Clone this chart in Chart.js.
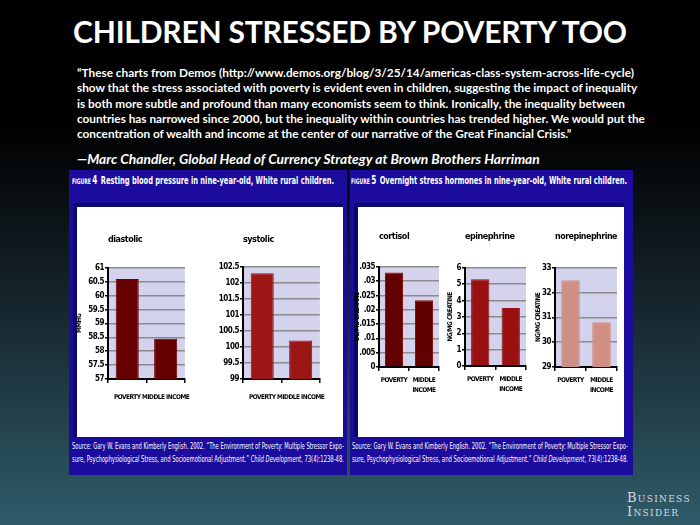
<!DOCTYPE html>
<html>
<head>
<meta charset="utf-8">
<title>Children stressed by poverty too</title>
<script src="https://cdn.jsdelivr.net/npm/chart.js@4.4.1/dist/chart.umd.min.js"></script>
<style>
  html, body { margin: 0; padding: 0; }
  body {
    width: 700px; height: 525px; overflow: hidden; position: relative;
    background: linear-gradient(to bottom, #000 0%, #000 24%, #142229 55%, #2f5b69 100%);
    font-family: Lato, "Open Sans", sans-serif;
  }
  .abs { position: absolute; }
  #slideTitle {
    left: 0; top: 13px; width: 700px; text-align: center; color: #fff;
    font: bold 30px Lato, sans-serif; letter-spacing: -0.2px;
  }
  #quote {
    left: 77px; top: 65px; color: #fff; font: bold 11.8px Lato, sans-serif;
    line-height: 15.3px; white-space: nowrap;
  }
  #attrib {
    left: 77px; top: 150px; color: #fff; font: italic bold 13.8px Lato, sans-serif;
    white-space: nowrap;
  }
  .panel { background: #1b0c9d; }
  .inner { background: #fff; box-sizing: border-box; border-top: 4px solid #0b0870; border-left: 4px solid #0b0870; }
  .head, .src { color: #fff; white-space: nowrap; transform-origin: 0 0; font-family: "DejaVu Sans Condensed", sans-serif; }
  .head { font-size: 11px; font-weight: bold; }
  .head .fig { font-size: 7.5px; }
  .head .num { font-size: 12px; margin: 0 5px 0 2px; }
  .src { font-size: 8.5px; line-height: 13px; }
  #brand {
    left: 627px; top: 491px; color: #d4dcdf; font: 13px "DejaVu Serif", "Liberation Serif", serif;
    font-variant: small-caps; letter-spacing: 1.3px; line-height: 14px;
  }
  canvas { position: absolute; }
</style>
</head>
<body>
<div id="slideTitle" class="abs">CHILDREN STRESSED BY POVERTY TOO</div>
<div id="quote" class="abs">“These charts from Demos (http://www.demos.org/blog/3/25/14/americas-class-system-across-life-cycle)<br>show that the stress associated with poverty is evident even in children, suggesting the impact of inequality<br>is both more subtle and profound than many economists seem to think. Ironically, the inequality between<br>countries has narrowed since 2000, but the inequality within countries has trended higher. We would put the<br>concentration of wealth and income at the center of our narrative of the Great Financial Crisis.”</div>
<div id="attrib" class="abs">—Marc Chandler, Global Head of Currency Strategy at Brown Brothers Harriman</div>

<div class="abs panel" style="left:69px; top:170px; width:278px; height:305px;"></div>
<div class="abs inner" style="left:73px; top:203px; width:270px; height:234px;"></div>
<div class="abs head" data-w="262" style="left:72px; top:173px;"><span class="fig">FIGURE</span><span class="num">4</span>Resting blood pressure in nine-year-old, White rural children.</div>
<div class="abs src" data-w="272" style="left:72px; top:440px;">Source: Gary W. Evans and Kimberly English. 2002. “The Environment of Poverty: Multiple Stressor Expo-</div>
<div class="abs src" data-w="272" style="left:72px; top:453px;">sure, Psychophysiological Stress, and Socioemotional Adjustment.” <i>Child Development</i>, 73(4):1238-48.</div>

<div class="abs panel" style="left:350px; top:170px; width:283px; height:305px;"></div>
<div class="abs inner" style="left:354px; top:203px; width:270px; height:234px;"></div>
<div class="abs head" data-w="276" style="left:351px; top:173px;"><span class="fig">FIGURE</span><span class="num">5</span>Overnight stress hormones in nine-year-old, White rural children.</div>
<div class="abs src" data-w="276" style="left:352px; top:440px;">Source: Gary W. Evans and Kimberly English. 2002. “The Environment of Poverty: Multiple Stressor Expo-</div>
<div class="abs src" data-w="276" style="left:352px; top:453px;">sure, Psychophysiological Stress, and Socioemotional Adjustment.” <i>Child Development</i>, 73(4):1238-48.</div>

<div id="brand" class="abs">Business<br>Insider</div>

<canvas id="diastolicChart" width="130" height="175" style="left:74px; top:230px;"></canvas>
<canvas id="systolicChart" width="129" height="175" style="left:210px; top:230px;"></canvas>
<canvas id="cortisolChart" width="91" height="174" style="left:352px; top:227px;"></canvas>
<canvas id="epinephrineChart" width="85" height="174" style="left:445px; top:227px;"></canvas>
<canvas id="norepinephrineChart" width="88" height="174" style="left:533px; top:227px;"></canvas>

<script>
/* ========================================
   Data
   ======================================== */

const pressureCategories = ['POVERTY', 'MIDDLE INCOME'];
const hormoneCategories = ['POVERTY', ['MIDDLE', 'INCOME']];

const diastolicValues = [60.6, 58.45];
const systolicValues = [102.3, 100.2];
const cortisolValues = [0.033, 0.0233];
const epinephrineValues = [5.3, 3.55];
const norepinephrineValues = [32.5, 30.8];

const diastolicTicks = [57, 57.5, 58, 58.5, 59, 59.5, 60, 60.5, 61];
const systolicTicks = [99, 99.5, 100, 100.5, 101, 101.5, 102, 102.5];
const cortisolTicks = [0, 0.005, 0.01, 0.015, 0.02, 0.025, 0.03, 0.035];
const epinephrineTicks = [0, 1, 2, 3, 4, 5, 6];
const norepinephrineTicks = [29, 30, 31, 32, 33];

const NARROW = '"DejaVu Sans Condensed", sans-serif';

/* ========================================
   Squeeze condensed caption lines to width
   ======================================== */

document.querySelectorAll('[data-w]').forEach(function (el) {
    const target = parseFloat(el.dataset.w);
    const w = el.getBoundingClientRect().width;
    if (w > 0) el.style.transform = 'scaleX(' + (target / w) + ')';
});

/* ========================================
   Chart helpers
   ======================================== */

// lavender plot area behind the grid
const plotBackground = {
    id: 'plotBackground',
    beforeDraw(chart) {
        const { ctx, chartArea: a } = chart;
        ctx.save();
        ctx.fillStyle = '#d3d3ee';
        ctx.fillRect(a.left, a.top, a.width, a.height);
        ctx.restore();
    }
};

// tighter letters, the original uses a compressed face
const condensedText = {
    id: 'condensedText',
    beforeUpdate(chart) { chart.ctx.letterSpacing = '-0.5px'; },
    beforeDraw(chart) { chart.ctx.letterSpacing = '-0.5px'; }
};

function shortDecimal(v) {
    return v === 0 ? '0' : String(v).replace(/^0\./, '.');
}

function makeBarChart(id, o) {
    const canvas = document.getElementById(id);
    if (!canvas) return;

    new Chart(canvas.getContext('2d'), {
        type: 'bar',
        data: {
            labels: o.labels,
            datasets: [{
                data: o.values,
                backgroundColor: o.color,
                borderColor: o.border || o.color,
                borderWidth: 1,
                categoryPercentage: 1,
                barPercentage: 0.6
            }]
        },
        plugins: [condensedText, plotBackground],
        options: {
            responsive: false,
            animation: false,
            devicePixelRatio: 1,
            layout: { padding: { top: 4, right: 4, bottom: 0, left: 0 } },
            plugins: {
                legend: { display: false },
                tooltip: { enabled: false },
                title: {
                    display: true,
                    text: o.title,
                    align: 'start',
                    fullSize: false,
                    color: '#000',
                    font: { family: NARROW, size: 9, weight: 'bold', lineHeight: 1.2 },
                    padding: { top: 0, bottom: o.titleGap }
                }
            },
            scales: {
                x: {
                    offset: true,
                    grid: { display: true, offset: true, drawOnChartArea: false, drawTicks: true, tickLength: 4, color: '#000', lineWidth: 1.5 },
                    border: { display: true, color: '#000', width: 2 },
                    ticks: {
                        color: '#000', padding: o.labelPad, maxRotation: 0, autoSkip: false,
                        font: { family: NARROW, size: 6.5, weight: 'bold', lineHeight: 1.45 }
                    },
                    afterFit(scale) { scale.height = o.xHeight; }
                },
                y: {
                    min: o.ticks[0],
                    max: o.ticks[o.ticks.length - 1],
                    grid: { color: '#8c8c8c', lineWidth: 1.5, tickColor: '#000', tickLength: 3 },
                    border: { display: true, color: '#000', width: 2 },
                    ticks: {
                        color: '#000', padding: 1, autoSkip: false,
                        font: { family: NARROW, size: 8, weight: 'bold' },
                        callback: function (v) { return o.tickLabel ? o.tickLabel(v) : String(v); }
                    },
                    title: {
                        display: !!o.yTitle,
                        text: o.yTitle || '',
                        color: '#000',
                        padding: { top: 1, bottom: 0 },
                        font: { family: NARROW, size: 6.5, weight: 'bold' }
                    },
                    afterBuildTicks(scale) { scale.ticks = o.ticks.map(function (v) { return { value: v }; }); },
                    afterFit(scale) { scale.width = o.yWidth; }
                }
            }
        }
    });
}

/* ========================================
   Figure 4 - resting blood pressure
   ======================================== */

makeBarChart('diastolicChart', {
    labels: pressureCategories, values: diastolicValues, ticks: diastolicTicks,
    color: '#660000', title: 'diastolic', yTitle: 'MMHG',
    yWidth: 34, xHeight: 26, titleGap: 23, labelPad: 10
});

makeBarChart('systolicChart', {
    labels: pressureCategories, values: systolicValues, ticks: systolicTicks,
    color: '#9c1616', title: 'systolic',
    yWidth: 33, xHeight: 26, titleGap: 22, labelPad: 10
});

/* ========================================
   Figure 5 - overnight stress hormones
   ======================================== */

makeBarChart('cortisolChart', {
    labels: hormoneCategories, values: cortisolValues, ticks: cortisolTicks,
    color: '#620000', border: '#8a1010', title: 'cortisol', yTitle: 'UG/MG CREATINE',
    tickLabel: shortDecimal,
    yWidth: 27, xHeight: 34, titleGap: 25, labelPad: 5
});

makeBarChart('epinephrineChart', {
    labels: hormoneCategories, values: epinephrineValues, ticks: epinephrineTicks,
    color: '#9a0f0f', title: 'epinephrine', yTitle: 'NG/MG CREATINE',
    yWidth: 20, xHeight: 35, titleGap: 26, labelPad: 5
});

makeBarChart('norepinephrineChart', {
    labels: hormoneCategories, values: norepinephrineValues, ticks: norepinephrineTicks,
    color: '#cf8f85', title: 'norepinephrine', yTitle: 'NG/MG CREATINE',
    yWidth: 22, xHeight: 34, titleGap: 26, labelPad: 5
});
</script>
</body>
</html>
